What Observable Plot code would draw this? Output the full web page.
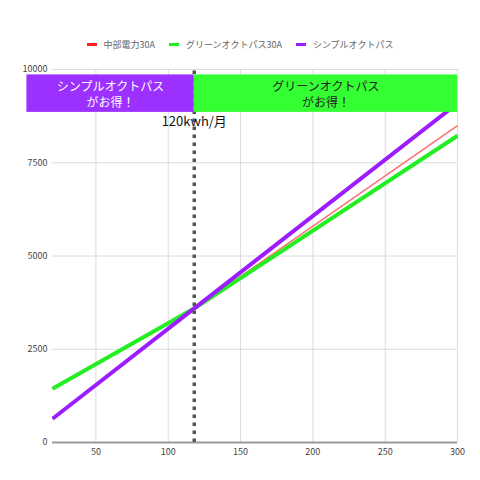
<!DOCTYPE html>
<html><head><meta charset="utf-8">
<script src="https://cdn.jsdelivr.net/npm/d3@7"></script>
<script src="https://cdn.jsdelivr.net/npm/@observablehq/plot@0.6"></script>
<style>
body{margin:0;background:#fff;font-family:"Noto Sans CJK JP","Noto Sans",sans-serif;}
#wrap{position:relative;width:480px;height:480px;}
#legend{position:absolute;top:36px;left:0;width:480px;height:16px;display:flex;justify-content:center;align-items:center;font-size:9px;color:#666;gap:14px;}
#legend .item{display:flex;align-items:center;gap:7px;}
#legend .sw{width:10px;height:3px;display:inline-block;}
#chart{position:absolute;top:60px;left:0;}
</style></head>
<body><div id="wrap"><div id="legend"></div><div id="chart"></div></div>
<script>
const seriesNames = ["中部電力30A", "グリーンオクトパス30A", "シンプルオクトパス"];
const seriesColors = ["#ff6f6f", "#22ee22", "#9b1cff"];
const legendColors = ["#ff2020", "#22ee22", "#9b1cff"];
const kwh = [20, 120, 300];
const chubu = [1442, 3642, 8494];
const greenOct = [1442, 3642, 8225];
const simpleOct = [636, 3656, 9092];
const xTicks = [50, 100, 150, 200, 250, 300];
const yTicks = [0, 2500, 5000, 7500, 10000];
const breakKwh = 118;
const breakLabel = "120kwh/月";
const boxLeftText = "シンプルオクトパス\nがお得！";
const boxRightText = "グリーンオクトパス\nがお得！";
const boxLeftRange = [2.3, breakKwh];
const boxRightRange = [breakKwh, 300];
const boxY = [8850, 9855];

const legend = document.getElementById("legend");
seriesNames.forEach((n, i) => {
  const it = document.createElement("span"); it.className = "item";
  it.innerHTML = `<span class="sw" style="background:${legendColors[i]}"></span><span>${n}</span>`;
  legend.appendChild(it);
});

const rows = s => kwh.map((k, i) => ({x: k, y: s[i]}));
const boxes = [
  {x1: boxLeftRange[0], x2: boxLeftRange[1], y1: boxY[0], y2: boxY[1], fill: "#9b30ff", text: boxLeftText, tc: "#fff"},
  {x1: boxRightRange[0], x2: boxRightRange[1], y1: boxY[0], y2: boxY[1], fill: "#33ff33", text: boxRightText, tc: "#222"}
];

const chart = Plot.plot({
  width: 480, height: 420,
  marginLeft: 52, marginRight: 23, marginTop: 9, marginBottom: 38,
  style: {fontFamily: '"Noto Sans CJK JP","Noto Sans",sans-serif', fontSize: "9px", color: "#444", background: "#fff"},
  x: {domain: [20, 300], ticks: xTicks, tickSize: 0, tickPadding: 6, label: null},
  y: {domain: [0, 10000], ticks: yTicks, tickSize: 0, tickPadding: 5, label: null, tickFormat: d => String(d)},
  marks: [
    Plot.gridY(yTicks, {stroke: "#dcdcdc", strokeOpacity: 1}),
    Plot.gridX(xTicks, {stroke: "#dcdcdc", strokeOpacity: 1}),
    Plot.ruleY([0], {stroke: "#9a9a9a", strokeWidth: 2}),
    Plot.line(rows(chubu), {x: "x", y: "y", stroke: seriesColors[0], strokeWidth: 1.5, strokeLinecap: "butt"}),
    Plot.line(rows(greenOct), {x: "x", y: "y", stroke: seriesColors[1], strokeWidth: 4, strokeLinecap: "butt"}),
    Plot.line(rows(simpleOct), {x: "x", y: "y", stroke: seriesColors[2], strokeWidth: 4, strokeLinecap: "butt", clip: true}),
    Plot.ruleX([breakKwh], {y1: 0, y2: 10000, stroke: "#555", strokeWidth: 3.5, strokeDasharray: "3.5,4.5"}),
    Plot.rect(boxes, {x1: "x1", x2: "x2", y1: "y1", y2: "y2", fill: "fill"}),
    Plot.text(boxes, {x: d => (d.x1 + d.x2) / 2, y: d => (d.y1 + d.y2) / 2, text: "text", fill: "tc", fontSize: 12, lineHeight: 1.35}),
    Plot.text([breakLabel], {x: breakKwh, y: 8590, text: d => d, fill: "#111", fontSize: 13}),
    Plot.axisX(xTicks, {tickSize: 0, tickPadding: 6, fontSize: 9}),
    Plot.axisY(yTicks, {tickSize: 0, tickPadding: 5, fontSize: 9, tickFormat: d => String(d)})
  ]
});
document.getElementById("chart").appendChild(chart);
</script></body></html>
